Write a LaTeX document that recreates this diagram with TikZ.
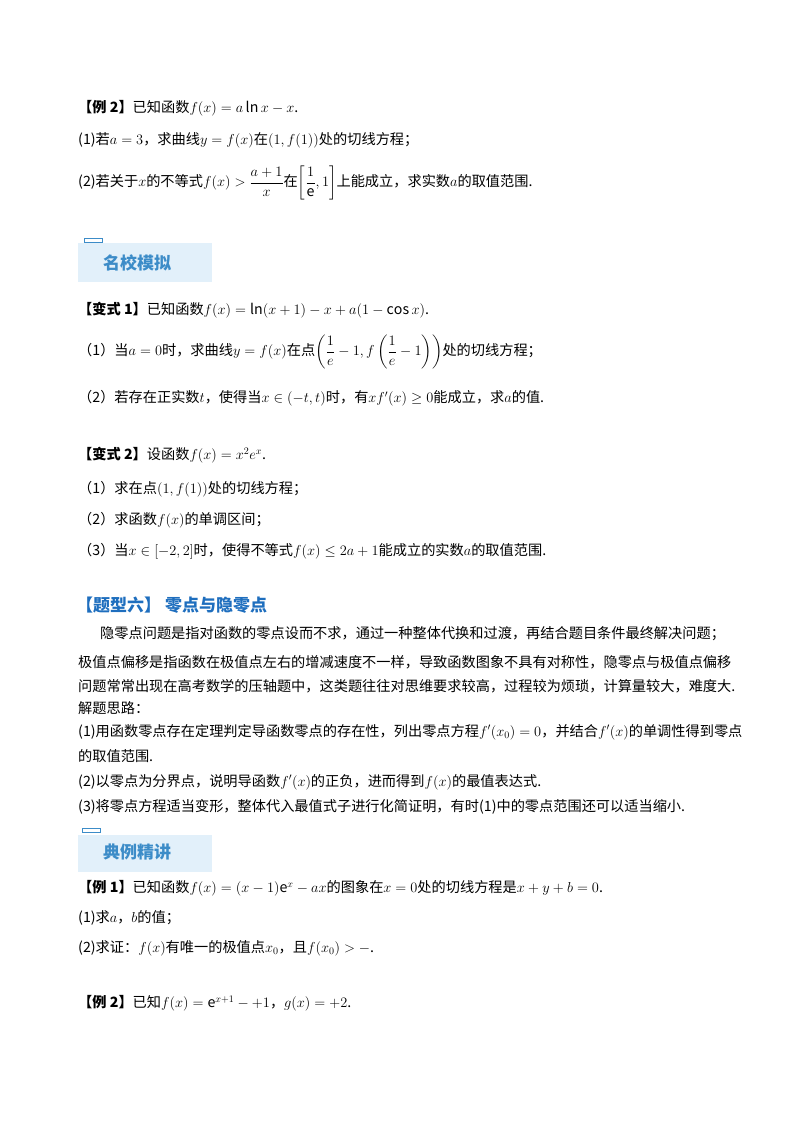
\documentclass[tikz,border=0pt]{standalone}
\usepackage{amsmath,amssymb}
\usepackage{fontspec}
\setmainfont{Noto Sans CJK SC}
\definecolor{hblue}{RGB}{30,110,190}
\definecolor{boxbg}{RGB}{226,240,250}
\definecolor{boxline}{RGB}{60,140,200}
\tikzset{
  ln/.style={anchor=west,inner sep=0pt,font=\fontsize{14.2}{17}\selectfont},
  hd/.style={anchor=west,inner sep=0pt,font=\fontsize{17}{20}\selectfont\bfseries,text=hblue},
  bx/.style={anchor=west,inner sep=0pt,font=\fontsize{17}{20}\selectfont\bfseries,text=boxline}
}
\begin{document}
\begin{tikzpicture}[x=1pt,y=-1pt]
\useasboundingbox (0,0) rectangle (800,1132);
% Example 2
\node[ln] (e2) at (78,108) {\textbf{【例 2】}已知函数$f(x)=a\ln x-x$.};
\node[ln] (e2a) at (78,140) {(1)若$a=3$，求曲线$y=f(x)$在$(1,f(1))$处的切线方程；};
\node[ln] (e2b) at (78,183) {(2)若关于$x$的不等式$f(x)>\dfrac{a+1}{x}$在$\left[\dfrac{1}{\mathrm{e}},1\right]$上能成立，求实数$a$的取值范围.};
% box 1
\fill[boxbg] (78,243) rectangle (212,282);
\draw[boxline,line width=1pt] (84,238) rectangle (102,242);
\node[bx] (b1) at (103,263) {名校模拟};
% variant 1
\node[ln] (v1) at (78,310) {\textbf{【变式 1】}已知函数$f(x)=\ln(x+1)-x+a(1-\cos x)$.};
\node[ln] (v1a) at (78,352) {（1）当$a=0$时，求曲线$y=f(x)$在点$\left(\dfrac{1}{e}-1,f\left(\dfrac{1}{e}-1\right)\right)$处的切线方程；};
\node[ln] (v1b) at (78,398) {（2）若存在正实数$t$，使得当$x\in(-t,t)$时，有$xf'(x)\geq 0$能成立，求$a$的值.};
% variant 2
\node[ln] (v2) at (78,455) {\textbf{【变式 2】}设函数$f(x)=x^2e^x$.};
\node[ln] (v2a) at (78,489) {（1）求在点$(1,f(1))$处的切线方程；};
\node[ln] (v2b) at (78,520) {（2）求函数$f(x)$的单调区间；};
\node[ln] (v2c) at (78,551) {（3）当$x\in[-2,2]$时，使得不等式$f(x)\leq 2a+1$能成立的实数$a$的取值范围.};
% heading
\node[hd] (h6) at (76,605) {【题型六】\ 零点与隐零点};
\node[ln] (p1) at (100,634) {隐零点问题是指对函数的零点设而不求，通过一种整体代换和过渡，再结合题目条件最终解决问题；};
\node[ln] (p2) at (78,662) {极值点偏移是指函数在极值点左右的增减速度不一样，导致函数图象不具有对称性，隐零点与极值点偏移};
\node[ln] (p3) at (78,686) {问题常常出现在高考数学的压轴题中，这类题往往对思维要求较高，过程较为烦琐，计算量较大，难度大.};
\node[ln] (p4) at (78,708) {解题思路：};
\node[ln] (p5) at (78,732) {(1)用函数零点存在定理判定导函数零点的存在性，列出零点方程$f'(x_0)=0$，并结合$f'(x)$的单调性得到零点};
\node[ln] (p6) at (78,756) {的取值范围.};
\node[ln] (p7) at (78,782) {(2)以零点为分界点，说明导函数$f'(x)$的正负，进而得到$f(x)$的最值表达式.};
\node[ln] (p8) at (78,807) {(3)将零点方程适当变形，整体代入最值式子进行化简证明，有时(1)中的零点范围还可以适当缩小.};
% box 2
\fill[boxbg] (78,835) rectangle (212,872);
\draw[boxline,line width=1pt] (82,828) rectangle (100,832);
\node[bx] (b2) at (103,852) {典例精讲};
% example 1
\node[ln] (x1) at (78,888) {\textbf{【例 1】}已知函数$f(x)=(x-1)\mathrm{e}^x-ax$的图象在$x=0$处的切线方程是$x+y+b=0$.};
\node[ln] (x1a) at (78,918) {(1)求$a$，$b$的值；};
\node[ln] (x1b) at (78,948) {(2)求证：$f(x)$有唯一的极值点$x_0$，且$f(x_0)>-$.};
\node[ln] (x2) at (78,1003) {\textbf{【例 2】}已知$f(x)=\mathrm{e}^{x+1}-+1$，$g(x)=+2$.};
\end{tikzpicture}
\end{document}
